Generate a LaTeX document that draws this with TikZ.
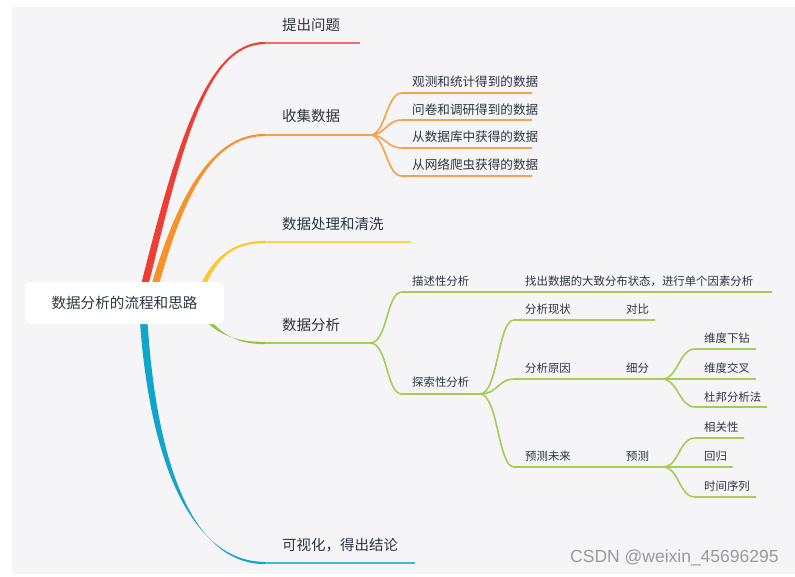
\documentclass[tikz,border=0pt]{standalone}
\usepackage{fontspec}
\setmainfont{Noto Sans CJK SC}
\newfontfamily\wmfont{Liberation Sans}
\usetikzlibrary{calc}
\definecolor{bg}{HTML}{F5F5F8}
\definecolor{txt}{HTML}{2E3440}
\definecolor{rC}{HTML}{EE3E34}\definecolor{rL}{HTML}{F36C6C}
\definecolor{oC}{HTML}{F7922B}\definecolor{oL}{HTML}{F9A04A}
\definecolor{yC}{HTML}{FFC72C}\definecolor{yL}{HTML}{FFD34F}
\definecolor{gC}{HTML}{97C23C}\definecolor{gL}{HTML}{A8CC52}
\definecolor{bC}{HTML}{12A5CC}\definecolor{bL}{HTML}{3DB8DE}
\definecolor{wm}{HTML}{9A9A9A}
\newcommand\taperbranch[6]{%
  \fill[#6] ($(#1)+({-#5},0)$) .. controls ($(#2)+({-0.9*#5},0)$) and ($(#3)+(0,-1.1)$) .. ($(#4)+(0,-1.1)$)
   -- ($(#4)+(0,1.1)$) .. controls ($(#3)+(0,1.1)$) and ($(#2)+({0.9*#5},0)$) .. ($(#1)+(#5,0)$) -- cycle;}
\begin{document}
\begin{tikzpicture}[x=1pt,y=-1pt,
  mainlbl/.style={anchor=west,inner sep=0pt,text=txt,font=\fontsize{14.5}{17}\selectfont},
  olbl/.style={anchor=west,inner sep=0pt,text=txt,font=\fontsize{12.6}{15}\selectfont},
  glbl/.style={anchor=west,inner sep=0pt,text=txt,font=\fontsize{11.4}{14}\selectfont},
  mline/.style={line width=2pt},
  oline/.style={draw=oL,line width=1.6pt},
  gline/.style={draw=gL,line width=1.6pt},
  rootbox/.style={fill=white,rounded corners=5pt,minimum width=199pt,minimum height=42pt,inner sep=0pt,text=txt,font=\fontsize{14.6}{17}\selectfont}]
\useasboundingbox (0,0) rectangle (795,576);
\fill[white] (0,0) rectangle (795,576);
\fill[bg] (12,7) rectangle (795,574);

% main branch coordinates
\coordinate (r0) at (141,300); \coordinate (r1) at (178,150); \coordinate (r2) at (205,43); \coordinate (r3) at (265,43); \coordinate (r4) at (360,43);
\coordinate (o0) at (151,300); \coordinate (o1) at (178,200); \coordinate (o2) at (210,135); \coordinate (o3) at (265,135); \coordinate (of) at (370,135);
\coordinate (y0) at (199,295); \coordinate (y1) at (213,258); \coordinate (y2) at (232,242); \coordinate (y3) at (265,242); \coordinate (y4) at (411,242);
\coordinate (g0) at (205,318); \coordinate (g1) at (222,336); \coordinate (g2) at (238,343); \coordinate (g3) at (265,343); \coordinate (gf) at (370,343);
\coordinate (b0) at (143,310); \coordinate (b1) at (152,470); \coordinate (b2) at (195,563); \coordinate (b3) at (265,563); \coordinate (b4) at (415,563);

\taperbranch{r0}{r1}{r2}{r3}{3.8}{rC}
\taperbranch{o0}{o1}{o2}{o3}{3.8}{oC}
\taperbranch{y0}{y1}{y2}{y3}{2.8}{yC}
\taperbranch{g0}{g1}{g2}{g3}{2.8}{gC}
\taperbranch{b0}{b1}{b2}{b3}{3.8}{bC}
\draw[mline,rL] (r3) -- (r4);
\draw[mline,oL] (o3) -- (of);
\draw[mline,yL] (y3) -- (y4);
\draw[mline,gL] (g3) -- (gf);
\draw[mline,bL] (b3) -- (b4);

% root
\node[rootbox] (root) at (124.5,303) {数据分析的流程和思路};

% main labels
\node[mainlbl] (n1) at (282,25) {提出问题};
\node[mainlbl] (n2) at (282,116) {收集数据};
\node[mainlbl] (n3) at (282,224) {数据处理和清洗};
\node[mainlbl] (n4) at (282,325) {数据分析};
\node[mainlbl] (n5) at (282,545) {可视化，得出结论};

% collect data children
\coordinate (oa) at (402,93);  \coordinate (oae) at (532,93);
\coordinate (ob) at (402,120); \coordinate (obe) at (532,120);
\coordinate (oc) at (402,148); \coordinate (oce) at (532,148);
\coordinate (od) at (402,176); \coordinate (ode) at (532,176);
\foreach \s/\e in {oa/oae,ob/obe,oc/oce,od/ode}
  \draw[oline] (of) .. controls +(16,0) and +(-16,0) .. (\s) -- (\e);
\node[olbl] (c1) at (412,82) {观测和统计得到的数据};
\node[olbl] (c2) at (412,110) {问卷和调研得到的数据};
\node[olbl] (c3) at (412,137) {从数据库中获得的数据};
\node[olbl] (c4) at (412,165) {从网络爬虫获得的数据};

% analysis subtree
\coordinate (da) at (402,292); \coordinate (dm) at (515,292); \coordinate (dae) at (772,292);
\coordinate (ea) at (402,394); \coordinate (ef) at (480,394);
\draw[gline] (gf) .. controls +(18,0) and +(-16,0) .. (da) -- (dm) -- (dae);
\draw[gline] (gf) .. controls +(18,0) and +(-16,0) .. (ea) -- (ef);
\node[glbl] (d1) at (412,281) {描述性分析};
\node[glbl] (d2) at (525,281) {找出数据的大致分布状态，进行单个因素分析};
\node[glbl] (e1) at (412,382) {探索性分析};

\coordinate (pa) at (514,320); \coordinate (pae) at (655,320);
\coordinate (pb) at (514,379); \coordinate (xf) at (662,379);
\coordinate (pc) at (514,467); \coordinate (yf) at (663,467);
\draw[gline] (ef) .. controls +(18,0) and +(-16,0) .. (pa) -- (pae);
\draw[gline] (ef) .. controls +(18,0) and +(-16,0) .. (pb) -- (xf);
\draw[gline] (ef) .. controls +(18,0) and +(-16,0) .. (pc) -- (yf);
\node[glbl] (p1) at (525,309.5) {分析现状};
\node[glbl] (p1b) at (626,309.5) {对比};
\node[glbl] (p2) at (525,368) {分析原因};
\node[glbl] (p2b) at (626,368) {细分};
\node[glbl] (p3) at (525,456) {预测未来};
\node[glbl] (p3b) at (626,456) {预测};

\coordinate (xa) at (695,349); \coordinate (xae) at (756,349);
\coordinate (xb) at (695,379); \coordinate (xbe) at (756,379);
\coordinate (xc) at (695,407); \coordinate (xce) at (767,407);
\foreach \s/\e in {xa/xae,xb/xbe,xc/xce}
  \draw[gline] (xf) .. controls +(16,0) and +(-16,0) .. (\s) -- (\e);
\node[glbl] (x1) at (704,338) {维度下钻};
\node[glbl] (x2) at (704,368) {维度交叉};
\node[glbl] (x3) at (704,397) {杜邦分析法};

\coordinate (ya) at (695,438); \coordinate (yae) at (744,438);
\coordinate (yb) at (695,467); \coordinate (ybe) at (733,467);
\coordinate (yc) at (695,497); \coordinate (yce) at (756,497);
\foreach \s/\e in {ya/yae,yb/ybe,yc/yce}
  \draw[gline] (yf) .. controls +(16,0) and +(-16,0) .. (\s) -- (\e);
\node[glbl] (y1l) at (704,427) {相关性};
\node[glbl] (y2l) at (704,456) {回归};
\node[glbl] (y3l) at (704,486) {时间序列};

% watermark
\node[anchor=west,inner sep=0pt,text=wm,font=\wmfont\fontsize{17.5}{20}\selectfont] (wm) at (570,557.5) {CSDN @weixin\_45696295};
\end{tikzpicture}
\end{document}
